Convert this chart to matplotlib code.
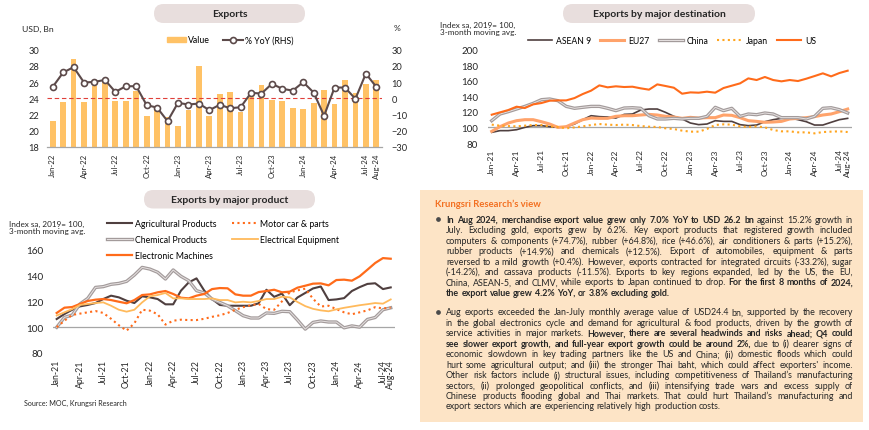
import matplotlib
matplotlib.use('Agg')
import matplotlib.pyplot as plt
import matplotlib.patheffects as pe
from matplotlib.patches import FancyBboxPatch, Rectangle, Patch
from matplotlib.lines import Line2D
from matplotlib.transforms import IdentityTransform
import numpy as np

plt.rcParams['font.family'] = ['Lato', 'DejaVu Sans']

# ---------------- data ----------------
mon = ['Jan', 'Feb', 'Mar', 'Apr', 'May', 'Jun', 'Jul', 'Aug', 'Sep', 'Oct', 'Nov', 'Dec']
months_exp = [m + '-' + y for y in ['22', '23', '24'] for m in mon][:32]
months_idx = [m + '-' + y for y in ['21', '22', '23', '24'] for m in mon][:44]

# Exports: value (USD bn) and % YoY
exp_value = [21.2, 23.5, 28.9, 23.5, 25.5, 26.1, 23.6, 23.6, 24.9, 21.8, 22.6, 21.7,
             20.6, 22.5, 28.0, 21.8, 24.5, 24.8, 22.3, 24.2, 25.6, 23.8, 23.6, 22.8,
             22.7, 23.4, 25.0, 23.3, 26.2, 24.7, 25.7, 26.2]
exp_yoy = [7.0, 15.9, 19.2, 9.7, 10.1, 11.3, 3.9, 7.4, 7.4, -4.3, -5.8, -14.2,
           -2.9, -3.9, -3.3, -7.4, -4.1, -6.2, -5.6, 3.3, 2.9, 8.9, 5.8, 4.7,
           9.9, 3.5, -10.9, 6.6, 6.6, -0.4, 15.2, 7.0]

# Exports by destination (index, 2019=100)
asean = [93.7, 95.9, 95.9, 97.1, 100.1, 102.3, 102.3, 101.0, 100.1, 101.0, 104.4, 110.0,
         115.1, 113.9, 113.4, 112.1, 116.8, 117.3, 122.4, 123.7, 123.7, 119.4, 114.3, 110.9,
         105.7, 103.6, 104.4, 108.7, 107.8, 107.8, 103.6, 102.3, 103.1, 107.4, 110.0, 111.7,
         112.1, 110.0, 107.4, 103.1, 103.1, 106.6, 110.0, 111.7]
eu27 = [95.0, 101.0, 105.7, 108.7, 110.0, 110.0, 107.4, 104.4, 100.1, 101.0, 105.7, 110.0,
        112.1, 111.7, 111.7, 114.3, 115.1, 115.1, 116.0, 116.8, 116.0, 114.3, 113.4, 111.7,
        113.0, 112.1, 112.6, 112.6, 116.0, 115.6, 112.6, 108.7, 107.8, 106.6, 107.0, 107.8,
        110.9, 111.7, 112.6, 113.9, 116.0, 117.3, 120.3, 123.7]
china = [108.7, 117.3, 120.3, 123.7, 127.1, 131.0, 135.7, 136.6, 134.4, 127.1, 124.6, 125.9,
         127.1, 127.1, 124.6, 121.6, 125.0, 125.4, 124.6, 115.1, 110.9, 110.9, 111.7, 110.9,
         111.7, 111.7, 114.3, 125.9, 121.6, 124.6, 114.3, 117.3, 116.4, 118.6, 117.3, 112.6,
         112.6, 112.6, 110.9, 114.3, 124.6, 125.4, 122.9, 118.6]
japan = [103.6, 102.3, 101.8, 101.4, 102.3, 103.1, 103.1, 101.4, 100.6, 98.9, 100.1, 101.4,
         103.1, 104.4, 103.6, 103.1, 103.6, 103.1, 101.8, 101.0, 100.6, 98.9, 98.0, 95.9,
         94.6, 94.6, 98.0, 103.1, 104.0, 103.6, 101.4, 100.6, 101.4, 100.1, 96.7, 95.0,
         95.0, 93.7, 93.7, 92.4, 94.1, 94.6, 95.0, 94.1]
us = [116.4, 119.4, 122.4, 126.7, 125.0, 129.7, 131.4, 134.4, 134.8, 134.8, 137.8, 143.0,
      147.3, 154.1, 151.6, 152.9, 152.0, 152.4, 150.3, 148.6, 155.4, 153.3, 151.1, 143.4,
      145.1, 144.7, 146.0, 144.7, 150.7, 153.7, 156.7, 163.1, 161.0, 164.9, 161.0, 159.3,
      161.0, 159.7, 162.7, 166.1, 169.6, 165.7, 170.0, 173.0]

# Exports by major product (index, 2019=100)
agri = [106.3, 110.2, 113.5, 116.1, 117.2, 118.7, 121.8, 124.4, 123.1, 120.5, 118.7, 123.9,
        123.1, 121.8, 117.7, 117.7, 128.3, 134.7, 137.8, 128.3, 121.8, 117.2, 116.6, 116.6,
        116.6, 116.6, 118.5, 129.0, 123.5, 126.0, 117.0, 123.0, 126.5, 130.0, 131.5, 121.0,
        121.5, 122.5, 128.0, 131.0, 133.5, 134.0, 129.5, 130.8]
motor = [100.0, 105.0, 109.5, 110.5, 111.5, 112.5, 111.0, 106.5, 101.5, 97.3, 103.0, 113.5,
         112.8, 110.0, 102.0, 105.0, 105.8, 105.5, 105.5, 106.5, 108.0, 109.2, 111.0, 113.5,
         115.5, 117.0, 118.0, 114.0, 113.5, 120.0, 127.0, 128.5, 129.8, 122.0, 116.0, 116.6,
         114.0, 111.5, 110.0, 111.5, 113.0, 115.5, 114.5, 115.2]
chem = [99.9, 107.6, 109.4, 118.0, 122.3, 130.8, 131.4, 133.2, 133.9, 135.5, 140.4, 146.3,
        145.0, 142.5, 137.3, 144.3, 139.4, 136.0, 128.3, 126.5, 121.8, 119.2, 116.6, 112.8,
        108.9, 107.1, 107.1, 111.0, 110.7, 112.3, 112.0, 105.5, 98.5, 103.7, 104.8, 104.0,
        104.0, 99.5, 101.0, 100.0, 106.0, 107.5, 113.5, 115.0]
elec_eq = [109.0, 111.5, 114.0, 117.2, 118.0, 118.7, 119.2, 116.6, 113.5, 112.0, 113.5, 119.2,
           123.9, 124.9, 126.5, 122.3, 122.3, 121.8, 121.8, 121.8, 122.3, 121.0, 121.0, 119.2,
           119.7, 119.2, 120.3, 121.8, 121.8, 123.6, 123.1, 119.5, 116.3, 114.2, 113.0, 112.3,
           113.8, 115.0, 116.0, 117.0, 117.8, 118.7, 118.2, 121.5]
elec_mach = [111.0, 115.1, 115.6, 118.0, 120.3, 121.3, 121.8, 121.0, 119.7, 118.5, 121.0, 124.9,
             125.4, 127.0, 128.0, 125.7, 122.8, 122.3, 124.4, 125.7, 129.5, 130.3, 130.1, 125.4,
             124.4, 124.4, 127.2, 128.0, 129.0, 127.0, 127.5, 130.6, 132.1, 133.7, 133.9, 132.4,
             136.5, 136.8, 136.0, 139.4, 144.5, 149.7, 153.5, 153.0]

# ---------------- figure ----------------
W, H = 870, 431
fig = plt.figure(figsize=(W / 100, H / 100), dpi=100)
px = IdentityTransform()
txt_col = '#262626'
dark = '#4F3F3F'
gray = '#A39B9B'
orange = '#FF6B1A'


def add_ax(l, t, r, b):
    return fig.add_axes([l / W, 1 - b / H, (r - l) / W, (b - t) / H])


def pill(x0, x1, y0, y1, label):
    p = FancyBboxPatch((x0, H - y1), x1 - x0, y1 - y0,
                       boxstyle='round,pad=0,rounding_size=%f' % ((y1 - y0) / 2),
                       transform=px, facecolor='#E8DEDD', edgecolor='none')
    fig.add_artist(p)
    fig.text((x0 + x1) / 2, H - (y0 + y1) / 2, label, transform=px, ha='center', va='center',
             fontsize=7.5, fontweight='bold', color=txt_col)


def clean(ax, ypad, xpad, fs_y=6.4, fs_x=5.5):
    for s in ax.spines.values():
        s.set_visible(False)
    ax.tick_params(axis='both', length=0, colors=txt_col)
    ax.tick_params(axis='y', pad=ypad, labelsize=fs_y)
    ax.tick_params(axis='x', pad=xpad, labelsize=fs_x, rotation=90)


def double_line(ax, x, y, lw=2.4, label=None):
    ax.plot(x, y, color='#E6E1E1', lw=0.7, label=label,
            path_effects=[pe.Stroke(linewidth=lw, foreground=gray), pe.Normal()])


# ---- Exports ----
pill(154, 305, 5, 24, 'Exports')
ax1 = add_ax(47.5, 50.7, 381.5, 147.7)
x1 = np.arange(len(months_exp))
ax1.bar(x1, exp_value, width=0.55, color='#FFC266', zorder=1)
ax1.set_ylim(18, 30)
ax1.set_xlim(-0.5, len(x1) - 0.5)
ax1.set_yticks(np.arange(18, 31, 2))
ax1.axhline(24, color='#E0403A', ls=(0, (4, 2.5)), lw=0.8, zorder=2)
t1 = list(range(0, 31, 3)) + [31]
ax1.set_xticks(t1)
ax1.set_xticklabels([months_exp[i] for i in t1])
clean(ax1, 6.0, 4.3, 6.7, 5.6)
ax1.spines['bottom'].set_visible(True)
ax1.spines['bottom'].set_color('#A6A6A6')
ax1.spines['bottom'].set_linewidth(0.9)
ax1b = ax1.twinx()
ax1b.plot(x1, exp_yoy, color='#5C4A4A', lw=1.5, marker='o', ms=4.3, mfc='white',
          mec='#5C4A4A', mew=1.2)
ax1b.set_ylim(-30, 30)
ax1b.set_yticks(np.arange(-30, 31, 10))
clean(ax1b, 7.3, 4.3, 6.7, 5.6)
fig.text(22, H - 29, 'USD, Bn', transform=px, fontsize=6.1, va='center', color=txt_col)
fig.text(394, H - 29, '%', transform=px, fontsize=6.1, va='center', color=txt_col)
h1 = [Patch(color='#FFC266'),
      Line2D([], [], color='#5C4A4A', lw=1.5, marker='o', ms=4.3, mfc='white', mec='#5C4A4A', mew=1.2)]
ax1b.legend(h1, ['Value', '% YoY (RHS)'], loc='center', bbox_to_anchor=(230, H - 41),
            bbox_transform=px, ncol=2, frameon=False, fontsize=6.3, handlelength=2.2,
            handleheight=0.6, handletextpad=0.25, columnspacing=1.5, borderpad=0, numpoints=1)

# ---- Exports by major destination ----
pill(563, 755, 5, 24, 'Exports by major destination')
ax2 = add_ax(487.6, 50.7, 851.8, 144)
x2 = np.arange(len(months_idx))
ax2.axhline(100, color='#A6A6A6', lw=0.9, zorder=1)
ax2.plot(x2, asean, color=dark, lw=1.2, label='ASEAN 9')
ax2.plot(x2, eu27, color='#FFA36B', lw=2.2, label='EU27')
double_line(ax2, x2, china, label='China')
ax2.plot(x2, japan, color='#FFA51F', lw=1.5, ls=(0, (1, 1.6)), label='Japan')
ax2.plot(x2, us, color=orange, lw=1.5, label='US')
ax2.set_ylim(80, 200)
ax2.set_yticks(np.arange(80, 201, 20))
ax2.set_xlim(-0.5, len(x2) - 0.5)
t2 = list(range(0, 43, 3)) + [43]
ax2.set_xticks(t2)
ax2.set_xticklabels([months_idx[i] for i in t2])
clean(ax2, 6.8, 3.8, 7.0, 6.0)
fig.text(440, H - 29, 'Index sa, 2019= 100,\n3-month moving avg.', transform=px, fontsize=5.9,
         va='center', color=txt_col, linespacing=1.1)
ax2.legend(loc='center', bbox_to_anchor=(672, H - 41.5), bbox_transform=px, ncol=5,
           frameon=False, fontsize=6.2, handlelength=2.8, handletextpad=0.5, columnspacing=1.0,
           borderpad=0)

# ---- Exports by major product ----
pill(144, 315, 191, 209.5, 'Exports by major product')
ax3 = add_ax(52.8, 250.7, 394.6, 354)
ax3.axhline(100, color='#A6A6A6', lw=0.9, zorder=1)
ax3.plot(x2, agri, color=dark, lw=1.5, label='Agricultural Products')
double_line(ax3, x2, chem, label='Chemical Products')
ax3.plot(x2, elec_mach, color=orange, lw=1.6, label='Electronic Machines')
ax3.plot(x2, motor, color=orange, lw=1.5, ls=(0, (1, 1.6)), label='Motor car & parts')
ax3.plot(x2, elec_eq, color='#FFBA5C', lw=1.3, label='Electrical Equipment')
ax3.set_ylim(80, 160)
ax3.set_yticks(np.arange(80, 161, 20))
ax3.set_xlim(-0.5, len(x2) - 0.5)
ax3.set_xticks(t2)
ax3.set_xticklabels([months_idx[i] for i in t2])
clean(ax3, 6.8, 4.5, 7.2, 6.3)
fig.text(9, H - 228, 'Index sa, 2019= 100,\n3-month moving avg.', transform=px, fontsize=5.9,
         va='center', color=txt_col, linespacing=1.1)
ax3.legend(loc='upper left', bbox_to_anchor=(107, H - 220.5), bbox_transform=px, ncol=2,
           frameon=False, fontsize=6.3, handlelength=2.9, handletextpad=0.3, columnspacing=1.8,
           labelspacing=0.78, borderpad=0, borderaxespad=0)
fig.text(24, H - 403, 'Source: MOC, Krungsri Research', transform=px, fontsize=5.1,
         va='center', color=txt_col)

# ---- Krungsri Research's view ----
fig.add_artist(Rectangle((420, H - 423), 443, 232, transform=px, facecolor='#FDE4C6',
                         edgecolor='none'))
fig.text(435, H - 204, 'Krungsri Research\u2019s view', transform=px, fontsize=6.8,
         fontweight='bold', color='#F37021', va='center')

para1 = [
    [('In Aug 2024, merchandise export value grew only 7.0% YoY to USD 26.2 bn', True),
     ('against 15.2% growth in', False)],
    [('July. Excluding gold, exports grew by 6.2%. Key export products that registered growth included', False)],
    [('computers & components (+74.7%), rubber (+64.8%), rice (+46.6%), air conditioners & parts (+15.2%),', False)],
    [('rubber products (+14.9%) and chemicals (+12.5%). Export of automobiles, equipment & parts', False)],
    [('reversed to a mild growth (+0.4%). However, exports contracted for integrated circuits (-33.2%), sugar', False)],
    [('(-14.2%), and cassava products (-11.5%). Exports to key regions expanded, led by the US, the EU,', False)],
    [('China, ASEAN-5, and CLMV, while exports to Japan continued to drop.', False),
     ('For the first 8 months of 2024,', True)],
    [('the export value grew 4.2% YoY, or 3.8% excluding gold.', True)],
]
para2 = [
    [('Aug exports exceeded the Jan-July monthly average value of USD24.4 bn, supported by the recovery', False)],
    [('in the global electronics cycle and demand for agricultural & food products, driven by the growth of', False)],
    [('service activities in major markets.', False),
     ('However, there are several headwinds and risks ahead; Q4 could', True)],
    [('see slower export growth, and full-year export growth could be around 2%,', True),
     ('due to (i) clearer signs of', False)],
    [('economic slowdown in key trading partners like the US and China; (ii) domestic floods which could', False)],
    [('hurt some agricultural output; and (iii) the stronger Thai baht, which could affect exporters\' income.', False)],
    [('Other risk factors include (i) structural issues, including competitiveness of Thailand\u2019s manufacturing', False)],
    [('sectors, (ii) prolonged geopolitical conflicts, and (iii) intensifying trade wars and excess supply of', False)],
    [('Chinese products flooding global and Thai markets. That could hurt Thailand\u2019s manufacturing and', False)],
    [('export sectors which are experiencing relatively high production costs.', False)],
]

renderer = fig.canvas.get_renderer()
x_left, x_right = 446, 853


def make_words(line, fs):
    arts = []
    for s, b in line:
        for w in s.split():
            arts.append(fig.text(0, 0, w, transform=px, fontsize=fs, color=txt_col,
                                 fontweight='bold' if b else 'normal', va='baseline'))
    return arts


# pick a body size so that every justified line fits
fs = 6.4
sp = 0.22 * fs * 100 / 72
widest = 0
for para in (para1, para2):
    for line in para[:-1]:
        arts = make_words(line, fs)
        wsum = sum(a.get_window_extent(renderer).width for a in arts) + sp * (len(arts) - 1)
        widest = max(widest, wsum)
        for a in arts:
            a.remove()
if widest > x_right - x_left:
    fs = fs * (x_right - x_left) / widest * 0.995
sp = 0.26 * fs * 100 / 72


def draw_para(para, y0, step=10.43):
    for i, line in enumerate(para):
        arts = make_words(line, fs)
        ws = [a.get_window_extent(renderer).width for a in arts]
        last = i == len(para) - 1
        gap = sp if last else (x_right - x_left - sum(ws)) / (len(arts) - 1)
        xx = x_left
        yy = H - (y0 + i * step) - 2.8
        for a, w in zip(arts, ws):
            a.set_position((xx, yy))
            xx += w + gap
    fig.add_artist(Line2D([437.5], [H - y0], marker='o', ms=2.4, color='#4A4A4A',
                          transform=px, lw=0))


draw_para(para1, 220)
draw_para(para2, 312.7)

fig.savefig('out.png', dpi=100)
